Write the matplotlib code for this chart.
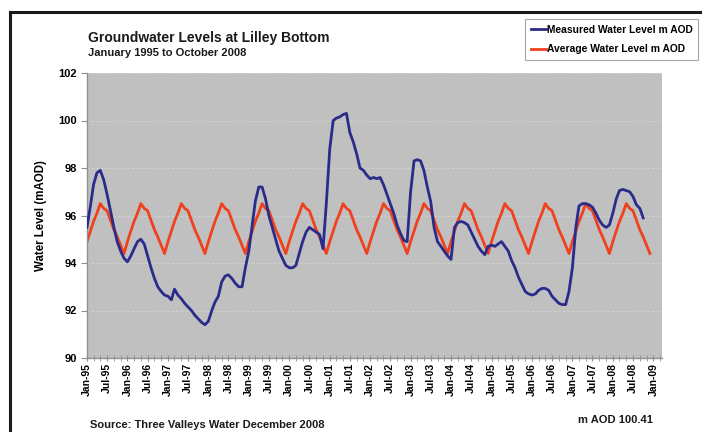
import matplotlib
matplotlib.use("Agg")
import matplotlib.pyplot as plt
import matplotlib.dates as mdates
from matplotlib.lines import Line2D
import pandas as pd
import datetime as dt

plt.rcParams['font.family'] = ['Liberation Sans', 'DejaVu Sans']
plt.rcParams['font.weight'] = 'bold'

# monthly measured level, Jan-1995 .. Oct-2008 (m AOD)
measured = [
    95.5, 96.4, 97.3, 97.8, 97.9, 97.5, 96.9, 96.2, 95.5, 94.9, 94.5, 94.2,      # 1995
    94.05, 94.3, 94.6, 94.9, 95.0, 94.8, 94.3, 93.8, 93.35, 93.0, 92.8, 92.65,   # 1996
    92.6, 92.45, 92.9, 92.65, 92.5, 92.3, 92.15, 92.0, 91.8, 91.65, 91.5, 91.4,  # 1997
    91.55, 92.0, 92.35, 92.6, 93.2, 93.45, 93.5, 93.35, 93.15, 93.0, 93.0, 93.8, # 1998
    94.5, 95.6, 96.6, 97.2, 97.2, 96.7, 96.0, 95.5, 95.0, 94.5, 94.2, 93.9,      # 1999
    93.8, 93.8, 93.9, 94.4, 94.9, 95.3, 95.5, 95.4, 95.3, 95.2, 94.6, 96.5,      # 2000
    98.8, 100.0, 100.1, 100.15, 100.25, 100.3, 99.5, 99.1, 98.6, 98.0, 97.9, 97.7,  # 2001
    97.55, 97.6, 97.55, 97.6, 97.3, 96.9, 96.5, 96.1, 95.6, 95.25, 94.95, 94.9,  # 2002
    97.0, 98.3, 98.35, 98.3, 97.9, 97.2, 96.6, 95.5, 94.9, 94.7, 94.5, 94.3,     # 2003
    94.15, 95.5, 95.7, 95.75, 95.7, 95.6, 95.3, 95.0, 94.7, 94.5, 94.35, 94.7,   # 2004
    94.75, 94.7, 94.8, 94.9, 94.7, 94.5, 94.1, 93.8, 93.4, 93.1, 92.8, 92.7,     # 2005
    92.65, 92.7, 92.85, 92.93, 92.93, 92.85, 92.6, 92.45, 92.3, 92.25, 92.25, 92.8,  # 2006
    93.8, 95.5, 96.4, 96.5, 96.5, 96.45, 96.35, 96.1, 95.8, 95.6, 95.5, 95.6,    # 2007
    96.1, 96.7, 97.05, 97.1, 97.05, 97.0, 96.8, 96.45, 96.3, 95.9,               # 2008
]

# long-term monthly average, Jan..Dec (m AOD)
avg_by_month = [94.9, 95.35, 95.75, 96.1, 96.5, 96.3, 96.2, 95.8, 95.4, 95.1, 94.75, 94.4]
avg_years = list(range(1995, 2009))

title = "Groundwater Levels at Lilley Bottom"
subtitle = "January 1995 to October 2008"
source = "Source: Three Valleys Water December 2008"
datum = "m AOD 100.41"

meas_dates = pd.date_range("1995-01-01", periods=len(measured), freq="MS")
avg_dates = pd.date_range("1995-01-01", periods=12 * len(avg_years), freq="MS")
average = [v for _ in avg_years for v in avg_by_month]

W, H = 702, 432
fig = plt.figure(figsize=(W / 100, H / 100), dpi=100)
ax = fig.add_axes([87 / W, 1 - 358 / H, (662 - 87) / W, (358 - 73) / H])
ax.set_facecolor("#c0c0c0")

ax.plot(meas_dates, measured, color="#2a2b8a", lw=2.0, label="Measured Water Level m AOD", zorder=3)
ax.plot(avg_dates, average, color="#f0401c", lw=2.0, label="Average Water Level m AOD", zorder=2)

ax.set_ylim(90, 102)
ax.set_yticks(range(90, 103, 2))
ax.set_xlim(dt.datetime(1995, 1, 1), dt.datetime(2009, 3, 20))
ax.xaxis.set_major_locator(mdates.MonthLocator(bymonth=[1, 7]))
ax.xaxis.set_major_formatter(mdates.DateFormatter("%b-%y"))
ax.xaxis.set_minor_locator(mdates.MonthLocator(bymonth=[1, 3, 5, 7, 9, 11]))
ax.grid(axis="y", color="#d2d2d2", lw=0.8, linestyle=(0, (2, 2)))
ax.set_axisbelow(True)

for s in ["top", "right"]:
    ax.spines[s].set_visible(False)
for s in ["left", "bottom"]:
    ax.spines[s].set_color("#909090")
    ax.spines[s].set_linewidth(1.0)

ax.tick_params(axis="x", which="both", direction="inout", length=5, color="#909090",
               labelsize=7.5, rotation=90, pad=1)
ax.tick_params(axis="x", which="minor", length=4)
ax.tick_params(axis="y", direction="out", length=4, color="#909090", labelsize=8, pad=3)
for lab in ax.get_xticklabels() + ax.get_yticklabels():
    lab.set_fontweight("bold")

ax.set_ylabel("Water Level (mAOD)", fontsize=8.3, fontweight="bold")
ax.yaxis.set_label_coords(-(87 - 47) / (662 - 87), 0.5)

fig.text(88 / W, 1 - 38 / H, title, fontsize=10, fontweight="bold", color="#1a1a1a", va="center")
fig.text(88 / W, 1 - 53 / H, subtitle, fontsize=8, fontweight="bold", color="#1a1a1a", va="center")
fig.text(90 / W, 1 - 425 / H, source, fontsize=8, fontweight="bold", color="#1a1a1a", va="center")
fig.text(653 / W, 1 - 420 / H, datum, fontsize=8, fontweight="bold", color="#1a1a1a",
         va="center", ha="right")

leg = fig.legend(loc="upper right", bbox_to_anchor=(698 / W, 1 - 19 / H), fontsize=7.4,
                 frameon=True, fancybox=False, handlelength=1.5, handletextpad=0.05,
                 borderpad=0.55, labelspacing=0.95, borderaxespad=0)
leg.get_frame().set_edgecolor("#909090")
leg.get_frame().set_linewidth(0.8)
for t in leg.get_texts():
    t.set_fontweight("bold")

# outer frame (left and top edges visible)
fig.add_artist(Line2D([9.5 / W, 9.5 / W], [0, 1 - 12 / H], transform=fig.transFigure,
                      color="#1a1a1a", lw=2.2))
fig.add_artist(Line2D([9.5 / W, 1], [1 - 12 / H, 1 - 12 / H], transform=fig.transFigure,
                      color="#1a1a1a", lw=2.2))

fig.savefig("out.png", dpi=100)
